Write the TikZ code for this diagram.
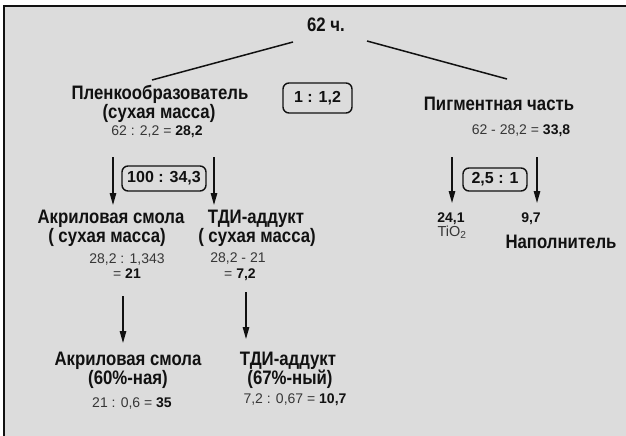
\documentclass[tikz,border=0pt]{standalone}
\usepackage{fontspec}
\setmainfont{Liberation Sans}
\newfontfamily\condfont{Liberation Sans}[FakeStretch=0.86]
\usetikzlibrary{arrows.meta}
\definecolor{panel}{RGB}{220,220,220}
\definecolor{numgray}{RGB}{55,55,55}
\definecolor{ink}{RGB}{17,17,17}
\newcommand\resnum[1]{\textbf{\color{ink}#1}}
\begin{document}
\begin{tikzpicture}[x=1pt,y=-1pt,
  title/.style={inner sep=0pt, anchor=base, text=ink,
    font=\condfont\bfseries\fontsize{19.5}{19.5}\selectfont},
  calc/.style={inner sep=0pt, anchor=base, text=numgray,
    font=\fontsize{14}{14}\selectfont},
  ratio/.style={draw=ink, line width=1.4pt, rounded corners=6pt, inner sep=0pt,
    text=ink, font=\bfseries\fontsize{16}{16}\selectfont},
  down/.style={draw=ink, line width=1.3pt, -{Triangle[length=12pt,width=6.5pt]}},
  branch/.style={draw=ink, line width=1.5pt}]

% page and framed panel
\useasboundingbox (0,0) rectangle (626,436);
\fill[white] (0,0) rectangle (626,436);
\fill[panel] (4,6) rectangle (626,436);
\draw[ink, line width=2pt] (4,436) -- (4,6) -- (626,6);

% total and first split
\node[title] (total) at (326,32) {62 ч.};
\node[title] (film) at (160,99.5) {Пленкообразователь};
\node[title] (filmdry) at (159,118) {(сухая масса)};
\node[calc] (filmcalc) at (157,135) {62 : 2,2 = \resnum{28,2}};
\node[ratio, minimum width=69pt, minimum height=30pt] (r1) at (317.5,98) {1 : 1,2};
\node[title] (pigm) at (499,110) {Пигментная часть};
\node[calc] (pigmcalc) at (521,134.5) {62 - 28,2 = \resnum{33,8}};

\coordinate (tl) at (293,42);
\coordinate (bl) at (152,80);
\coordinate (tr) at (367,41);
\coordinate (br) at (507,79);
\draw[branch] (tl) -- (bl);
\draw[branch] (tr) -- (br);

% binder split
\coordinate (a1s) at (113,157);
\coordinate (a1e) at (113,205);
\coordinate (a2s) at (214,157);
\coordinate (a2e) at (214,205);
\draw[down] (a1s) -- (a1e);
\draw[down] (a2s) -- (a2e);
\node[ratio, minimum width=84pt, minimum height=25pt] (r2) at (164,178.5) {100 : 34,3};

\node[title] (acr) at (111,223) {Акриловая смола};
\node[title] (acrdry) at (107,242) {( сухая масса)};
\node[calc] (acrcalc) at (127,263) {28,2 : 1,343};
\node[calc] (acrres) at (127,278) {= \resnum{21}};

\node[title] (tdi) at (256,223) {ТДИ-аддукт};
\node[title] (tdidry) at (257,242) {( сухая масса)};
\node[calc] (tdicalc) at (238,262) {28,2 - 21};
\node[calc] (tdires) at (240,278) {= \resnum{7,2}};

% solutions as supplied
\coordinate (b1s) at (123,296);
\coordinate (b1e) at (123,343);
\coordinate (b2s) at (246,292);
\coordinate (b2e) at (246,339);
\draw[down] (b1s) -- (b1e);
\draw[down] (b2s) -- (b2e);

\node[title] (acrsol) at (128,365) {Акриловая смола};
\node[title] (acrsolp) at (128,384) {(60\%-ная)};
\node[calc] (acrsolcalc) at (132,407) {21 : 0,6 = \resnum{35}};

\node[title] (tdisol) at (288,365) {ТДИ-аддукт};
\node[title] (tdisolp) at (290,384) {(67\%-ный)};
\node[calc] (tdisolcalc) at (295,403) {7,2 : 0,67 = \resnum{10,7}};

% pigment split
\coordinate (c1s) at (452,157);
\coordinate (c1e) at (452,203);
\coordinate (c2s) at (537,157);
\coordinate (c2e) at (537,203);
\draw[down] (c1s) -- (c1e);
\draw[down] (c2s) -- (c2e);
\node[ratio, minimum width=64pt, minimum height=23pt] (r3) at (495,179.5) {2,5 : 1};

\node[calc, text=ink, font=\bfseries\fontsize{14}{14}\selectfont] (tio) at (451,222) {24,1};
\node[calc, font=\fontsize{14.5}{14.5}\selectfont] (tioname) at (452,236) {TiO\textsubscript{2}};
\node[calc, text=ink, font=\bfseries\fontsize{14}{14}\selectfont] (fill) at (531,222) {9,7};
\node[title] (fillname) at (561,248) {Наполнитель};
\end{tikzpicture}
\end{document}
